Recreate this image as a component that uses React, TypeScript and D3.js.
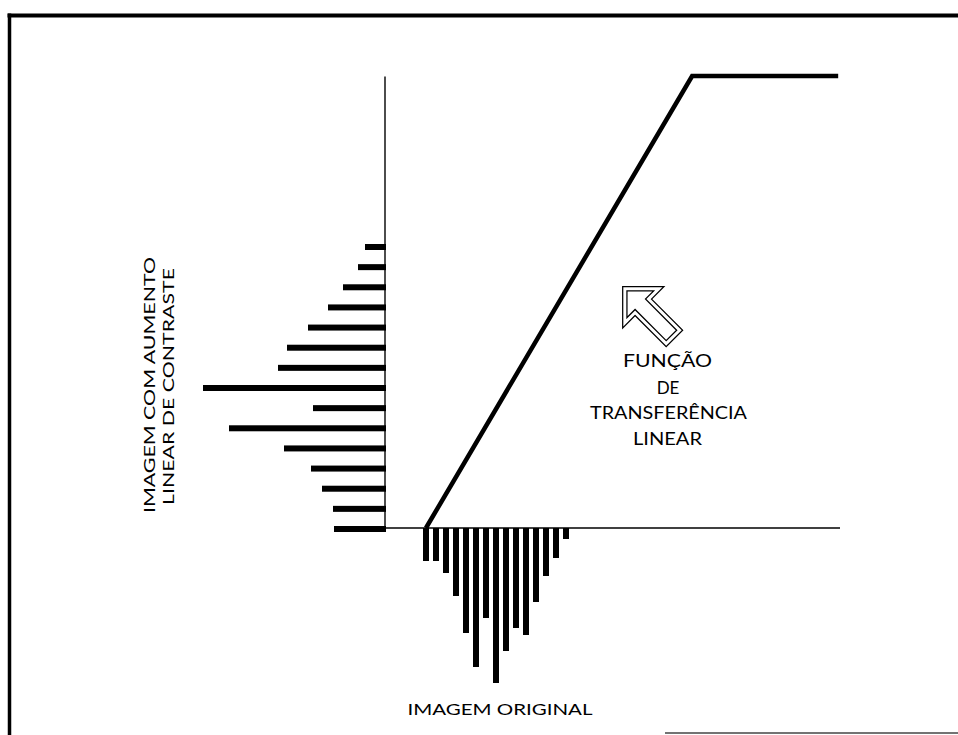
import React from "react";
import * as d3 from "d3";

// ---- data ----
const bins = ["b1", "b2", "b3", "b4", "b5", "b6", "b7", "b8", "b9", "b10", "b11", "b12", "b13", "b14", "b15"];
// original image histogram (bars hanging below the input axis)
const originalCounts = [33, 33, 45, 68, 105, 139, 90, 155, 123, 100, 107, 74, 48, 30, 11];
// contrast-stretched histogram (bars left of output axis), listed bottom to top
const stretchedCounts = [52, 53, 64, 75, 102, 157, 73, 183, 108, 99, 78, 58, 43, 28, 21];
// linear transfer function (input level -> output level, 0..100)
const transferInput = [9, 67.5, 99.6];
const transferOutput = [0, 100, 100];
// texts
const functionLabel = ["FUNÇÃO", "DE", "TRANSFERÊNCIA", "LINEAR"];
const yAxisLabel = ["IMAGEM COM AUMENTO", "LINEAR DE CONTRASTE"];
const xAxisLabel = "IMAGEM ORIGINAL";

const W = 958;
const H = 735;
const FONT = "Lato, 'Open Sans', sans-serif";

export default function App() {
  const x = d3.scaleLinear().domain([0, 100]).range([385, 840]);
  const y = d3.scaleLinear().domain([0, 100]).range([528, 76]);
  const binX = d3.scalePoint<string>().domain(bins).range([426, 566]);
  const binY = d3.scalePoint<string>().domain(bins).range([529, 247]);
  const len = d3.scaleLinear().domain([0, 200]).range([0, 200]);

  const transferPts: [number, number][] = transferInput.map((v, i) => [v, transferOutput[i]]);
  const line = d3
    .line<[number, number]>()
    .x((d) => x(d[0]))
    .y((d) => y(d[1]));

  // hollow arrow (local frame: points along -x), center-line of double outline
  const arrowLocal: [number, number][] = [
    [3, 0],
    [27, -24],
    [27, -9.5],
    [71, -9.5],
    [71, 9.5],
    [27, 9.5],
    [27, 24],
  ];
  const arrowPath = d3.line().curve(d3.curveLinearClosed)(arrowLocal) || "";

  const fnWidths: (number | undefined)[] = [89, undefined, 157, 69];
  const fnBase = [367, 394, 419, 445];
  const fnCx = [667.5, 668, 668.5, 667.5];

  return (
    <svg
      width={W}
      height={H}
      viewBox={`0 0 ${W} ${H}`}
      style={{ position: "absolute", left: 0, top: 0, display: "block", background: "#fff" }}
    >
      <rect x={0} y={0} width={W} height={H} fill="#fff" />
      {/* frame */}
      <line x1={7.5} y1={15.5} x2={W} y2={15.5} stroke="#000" strokeWidth={4} />
      <line x1={9.5} y1={13.5} x2={9.5} y2={H} stroke="#000" strokeWidth={3.5} />
      <line x1={665} y1={733} x2={W} y2={733} stroke="#444" strokeWidth={1.5} />

      {/* axes */}
      <line x1={x(0)} y1={y(0) + 2} x2={x(0)} y2={y(100) + 0.5} stroke="#000" strokeWidth={1.4} />
      <line x1={x(0)} y1={y(0)} x2={x(100)} y2={y(0)} stroke="#000" strokeWidth={1.4} />

      {/* stretched histogram */}
      {bins.map((b, i) => (
        <rect
          key={"s" + b}
          x={x(0) + 1 - len(stretchedCounts[i])}
          y={(binY(b) as number) - 3}
          width={len(stretchedCounts[i])}
          height={6}
          fill="#000"
        />
      ))}

      {/* original histogram */}
      {bins.map((b, i) => (
        <rect
          key={"o" + b}
          x={(binX(b) as number) - 3}
          y={y(0)}
          width={6}
          height={len(originalCounts[i])}
          fill="#000"
        />
      ))}

      {/* transfer function */}
      <path
        d={line(transferPts) || ""}
        fill="none"
        stroke="#000"
        strokeWidth={4.5}
        strokeLinejoin="miter"
      />

      {/* hollow arrow */}
      <g transform="translate(622.7,286.7) rotate(45)">
        <path d={arrowPath} fill="#fff" stroke="#000" strokeWidth={5.5} strokeLinejoin="miter" />
        <path d={arrowPath} fill="none" stroke="#fff" strokeWidth={3} strokeLinejoin="miter" />
      </g>

      {/* function label */}
      {functionLabel.map((t, i) => (
        <text
          key={t}
          x={fnCx[i]}
          y={fnBase[i]}
          textAnchor="middle"
          fontFamily={FONT}
          fontSize={17}
          fill="#000"
          textLength={fnWidths[i]}
          lengthAdjust={fnWidths[i] ? "spacingAndGlyphs" : undefined}
        >
          {t}
        </text>
      ))}

      {/* y label (rotated) */}
      <text
        transform="translate(155,385) rotate(-90)"
        textAnchor="middle"
        fontFamily={FONT}
        fontSize={14.5}
        fill="#000"
        textLength={256}
        lengthAdjust="spacingAndGlyphs"
      >
        {yAxisLabel[0]}
      </text>
      <text
        transform="translate(174,386.5) rotate(-90)"
        textAnchor="middle"
        fontFamily={FONT}
        fontSize={14.5}
        fill="#000"
        textLength={237}
        lengthAdjust="spacingAndGlyphs"
      >
        {yAxisLabel[1]}
      </text>

      {/* x label */}
      <text
        x={500}
        y={715}
        textAnchor="middle"
        fontFamily={FONT}
        fontSize={16}
        fill="#000"
        textLength={185}
        lengthAdjust="spacingAndGlyphs"
      >
        {xAxisLabel}
      </text>
    </svg>
  );
}
